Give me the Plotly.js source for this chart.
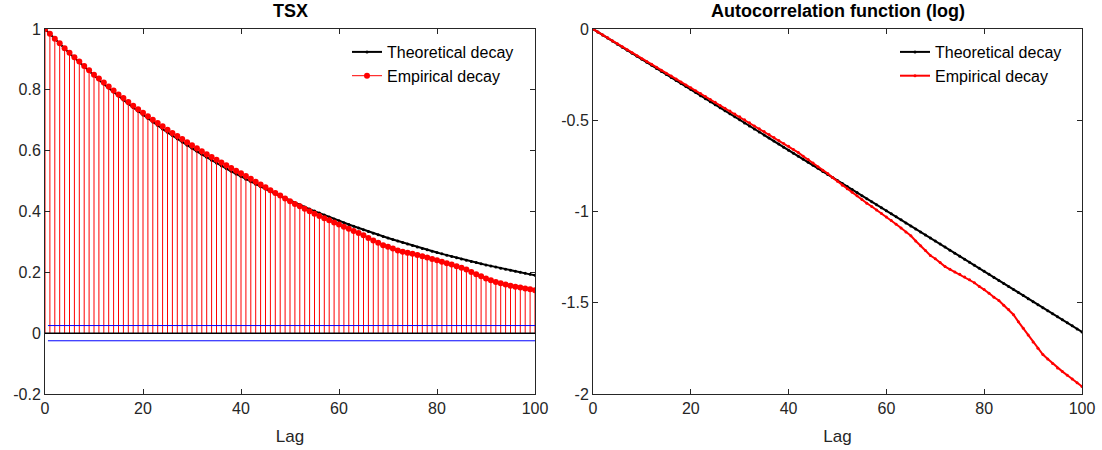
<!DOCTYPE html>
<html>
<head>
<meta charset="utf-8">
<script src="https://cdn.plot.ly/plotly-3.0.1.min.js"></script>
<style>
  html, body { margin: 0; padding: 0; background: #ffffff; }
  #chart { width: 1102px; height: 450px; }
</style>
</head>
<body>
<div id="chart"></div>
<script>
// ---- Data ----
const leftTitle = 'TSX';
const rightTitle = 'Autocorrelation function (log)';
const xLabel = 'Lag';
const seriesNames = ['Theoretical decay', 'Empirical decay'];

// Lags 0..100
const lags = Array.from({length: 101}, (_, i) => i);

// Theoretical autocorrelation decay
const theoretical = [
  1.0000,0.9835,0.9674,0.9514,0.9358,
  0.9204,0.9052,0.8903,0.8756,0.8612,
  0.8471,0.8331,0.8194,0.8059,0.7926,
  0.7796,0.7668,0.7542,0.7417,0.7295,
  0.7175,0.7057,0.6941,0.6826,0.6714,
  0.6603,0.6495,0.6388,0.6283,0.6179,
  0.6078,0.5978,0.5879,0.5782,0.5687,
  0.5593,0.5501,0.5411,0.5322,0.5234,
  0.5148,0.5063,0.4980,0.4898,0.4817,
  0.4738,0.4660,0.4583,0.4508,0.4434,
  0.4361,0.4289,0.4218,0.4149,0.4080,
  0.4013,0.3947,0.3882,0.3818,0.3755,
  0.3694,0.3633,0.3573,0.3514,0.3456,
  0.3399,0.3343,0.3288,0.3234,0.3181,
  0.3129,0.3077,0.3027,0.2977,0.2928,
  0.2880,0.2832,0.2786,0.2740,0.2695,
  0.2650,0.2607,0.2564,0.2521,0.2480,
  0.2439,0.2399,0.2360,0.2321,0.2282,
  0.2245,0.2208,0.2172,0.2136,0.2101,
  0.2066,0.2032,0.1999,0.1966,0.1933,
  0.1901
];

// Empirical autocorrelation (stem values)
const empirical = [
  1.000,0.984,0.968,0.953,0.937,0.922,0.907,0.893,0.878,0.864,
  0.850,0.837,0.824,0.811,0.798,0.785,0.773,0.760,0.748,0.736,
  0.725,0.713,0.702,0.691,0.680,0.669,0.658,0.648,0.638,0.628,
  0.618,0.608,0.598,0.588,0.579,0.570,0.561,0.552,0.543,0.534,
  0.526,0.517,0.508,0.498,0.489,0.480,0.470,0.461,0.453,0.443,
  0.434,0.425,0.417,0.409,0.401,0.393,0.385,0.378,0.371,0.364,
  0.357,0.350,0.343,0.336,0.329,0.322,0.313,0.305,0.297,0.289,
  0.284,0.278,0.272,0.268,0.264,0.261,0.257,0.253,0.249,0.244,
  0.240,0.235,0.230,0.226,0.220,0.215,0.209,0.201,0.194,0.187,
  0.180,0.174,0.168,0.164,0.160,0.156,0.153,0.150,0.147,0.144,
  0.141
];

// Confidence bounds (blue lines)
const confBound = 0.025;
const boundLags = [0.6, 100];

// Tick labels
const xTickVals = [0, 20, 40, 60, 80, 100];
const xTickText = ['0', '20', '40', '60', '80', '100'];
const yLeftTickVals = [-0.2, 0, 0.2, 0.4, 0.6, 0.8, 1];
const yLeftTickText = ['-0.2', '0', '0.2', '0.4', '0.6', '0.8', '1'];
const yRightTickVals = [-2, -1.5, -1, -0.5, 0];
const yRightTickText = ['-2', '-1.5', '-1', '-0.5', '0'];

// ---- Derived for the log panel ----
const theoreticalLog = theoretical.map(v => Math.log(v));
const empiricalLog = empirical.map(v => Math.log(v));

// ---- Styles ----
const FONT = 'Liberation Sans, Arial, Helvetica, sans-serif';
const AXC = '#262626';
const W = 1102, H = 450;
const px = (a, b) => [a / W, b / W];
const py = (top, bottom) => [1 - bottom / H, 1 - top / H];

const traces = [
  // Left: theoretical
  {
    x: lags, y: theoretical, xaxis: 'x', yaxis: 'y',
    type: 'scatter', mode: 'lines+markers', name: seriesNames[0],
    line: {color: '#000000', width: 2}, marker: {color: '#000000', size: 3},
    legend: 'legend', legendrank: 1, hoverinfo: 'skip'
  },
  // Left: stems + markers
  {
    x: lags, y: empirical, xaxis: 'x', yaxis: 'y',
    type: 'scatter', mode: 'markers', name: seriesNames[1], showlegend: false,
    marker: {color: '#ff0000', size: 6, line: {width: 0}},
    error_y: {type: 'data', symmetric: false, array: empirical.map(() => 0),
              arrayminus: empirical, width: 0, thickness: 1, color: '#ff0000'},
    hoverinfo: 'skip'
  },
  // Left legend entry for the empirical stems
  {
    x: [null], y: [null], xaxis: 'x', yaxis: 'y',
    type: 'scatter', mode: 'lines+markers', name: seriesNames[1],
    line: {color: '#ff0000', width: 1}, marker: {color: '#ff0000', size: 6},
    legend: 'legend', legendrank: 2, hoverinfo: 'skip'
  },
  // Confidence bounds
  {
    x: boundLags, y: boundLags.map(() => confBound), xaxis: 'x', yaxis: 'y',
    type: 'scatter', mode: 'lines', showlegend: false,
    line: {color: '#0000ff', width: 1}, hoverinfo: 'skip'
  },
  {
    x: boundLags, y: boundLags.map(() => -confBound), xaxis: 'x', yaxis: 'y',
    type: 'scatter', mode: 'lines', showlegend: false,
    line: {color: '#0000ff', width: 1}, hoverinfo: 'skip'
  },
  // Right: theoretical log
  {
    x: lags, y: theoreticalLog, xaxis: 'x2', yaxis: 'y2',
    type: 'scatter', mode: 'lines+markers', name: seriesNames[0],
    line: {color: '#000000', width: 2}, marker: {color: '#000000', size: 3},
    legend: 'legend2', hoverinfo: 'skip'
  },
  // Right: empirical log
  {
    x: lags, y: empiricalLog, xaxis: 'x2', yaxis: 'y2',
    type: 'scatter', mode: 'lines+markers', name: seriesNames[1],
    line: {color: '#ff0000', width: 2}, marker: {color: '#ff0000', size: 3},
    legend: 'legend2', hoverinfo: 'skip'
  }
];

const axisCommon = {
  showline: true, linecolor: AXC, linewidth: 1, mirror: 'ticks',
  ticks: 'inside', ticklen: 5, tickwidth: 1, tickcolor: AXC,
  showgrid: false, zeroline: false,
  tickfont: {family: FONT, size: 16, color: AXC},
  fixedrange: true
};

const legendCommon = {
  xanchor: 'left', yanchor: 'top',
  bgcolor: 'rgba(255,255,255,0)', borderwidth: 0,
  font: {family: FONT, size: 16, color: '#000000'},
  tracegroupgap: 0, itemwidth: 30
};

const layout = {
  width: W, height: H,
  margin: {l: 0, r: 0, t: 0, b: 0},
  paper_bgcolor: '#ffffff', plot_bgcolor: '#ffffff',
  font: {family: FONT, color: AXC},
  showlegend: true,
  xaxis: Object.assign({}, axisCommon, {
    domain: px(45, 535), anchor: 'y', range: [0, 100],
    tickvals: xTickVals, ticktext: xTickText,
    title: {text: xLabel, font: {family: FONT, size: 17, color: AXC}, standoff: 13}
  }),
  yaxis: Object.assign({}, axisCommon, {
    domain: py(29, 394), anchor: 'x', range: [-0.2, 1],
    tickvals: yLeftTickVals, ticktext: yLeftTickText
  }),
  xaxis2: Object.assign({}, axisCommon, {
    domain: px(593, 1082), anchor: 'y2', range: [0, 100],
    tickvals: xTickVals, ticktext: xTickText,
    title: {text: xLabel, font: {family: FONT, size: 17, color: AXC}, standoff: 13}
  }),
  yaxis2: Object.assign({}, axisCommon, {
    domain: py(29, 394), anchor: 'x2', range: [-2, 0],
    tickvals: yRightTickVals, ticktext: yRightTickText
  }),
  legend: Object.assign({}, legendCommon, {x: 347 / W, y: 1 - 35 / H}),
  legend2: Object.assign({}, legendCommon, {x: 895 / W, y: 1 - 35 / H}),
  shapes: [
    {type: 'line', xref: 'x domain', yref: 'y', x0: 0, x1: 1, y0: 0, y1: 0,
     line: {color: '#000000', width: 1.5}, layer: 'above'}
  ],
  annotations: [
    {text: '<b>' + leftTitle + '</b>', xref: 'x domain', yref: 'paper',
     x: 0.5, y: 1 - 11 / H, xanchor: 'center', yanchor: 'middle', showarrow: false,
     font: {family: FONT, size: 18, color: '#000000'}},
    {text: '<b>' + rightTitle + '</b>', xref: 'x2 domain', yref: 'paper',
     x: 0.5, y: 1 - 11 / H, xanchor: 'center', yanchor: 'middle', showarrow: false,
     font: {family: FONT, size: 18, color: '#000000'}}
  ]
};

Plotly.newPlot('chart', traces, layout, {staticPlot: true, displayModeBar: false});
</script>
</body>
</html>
